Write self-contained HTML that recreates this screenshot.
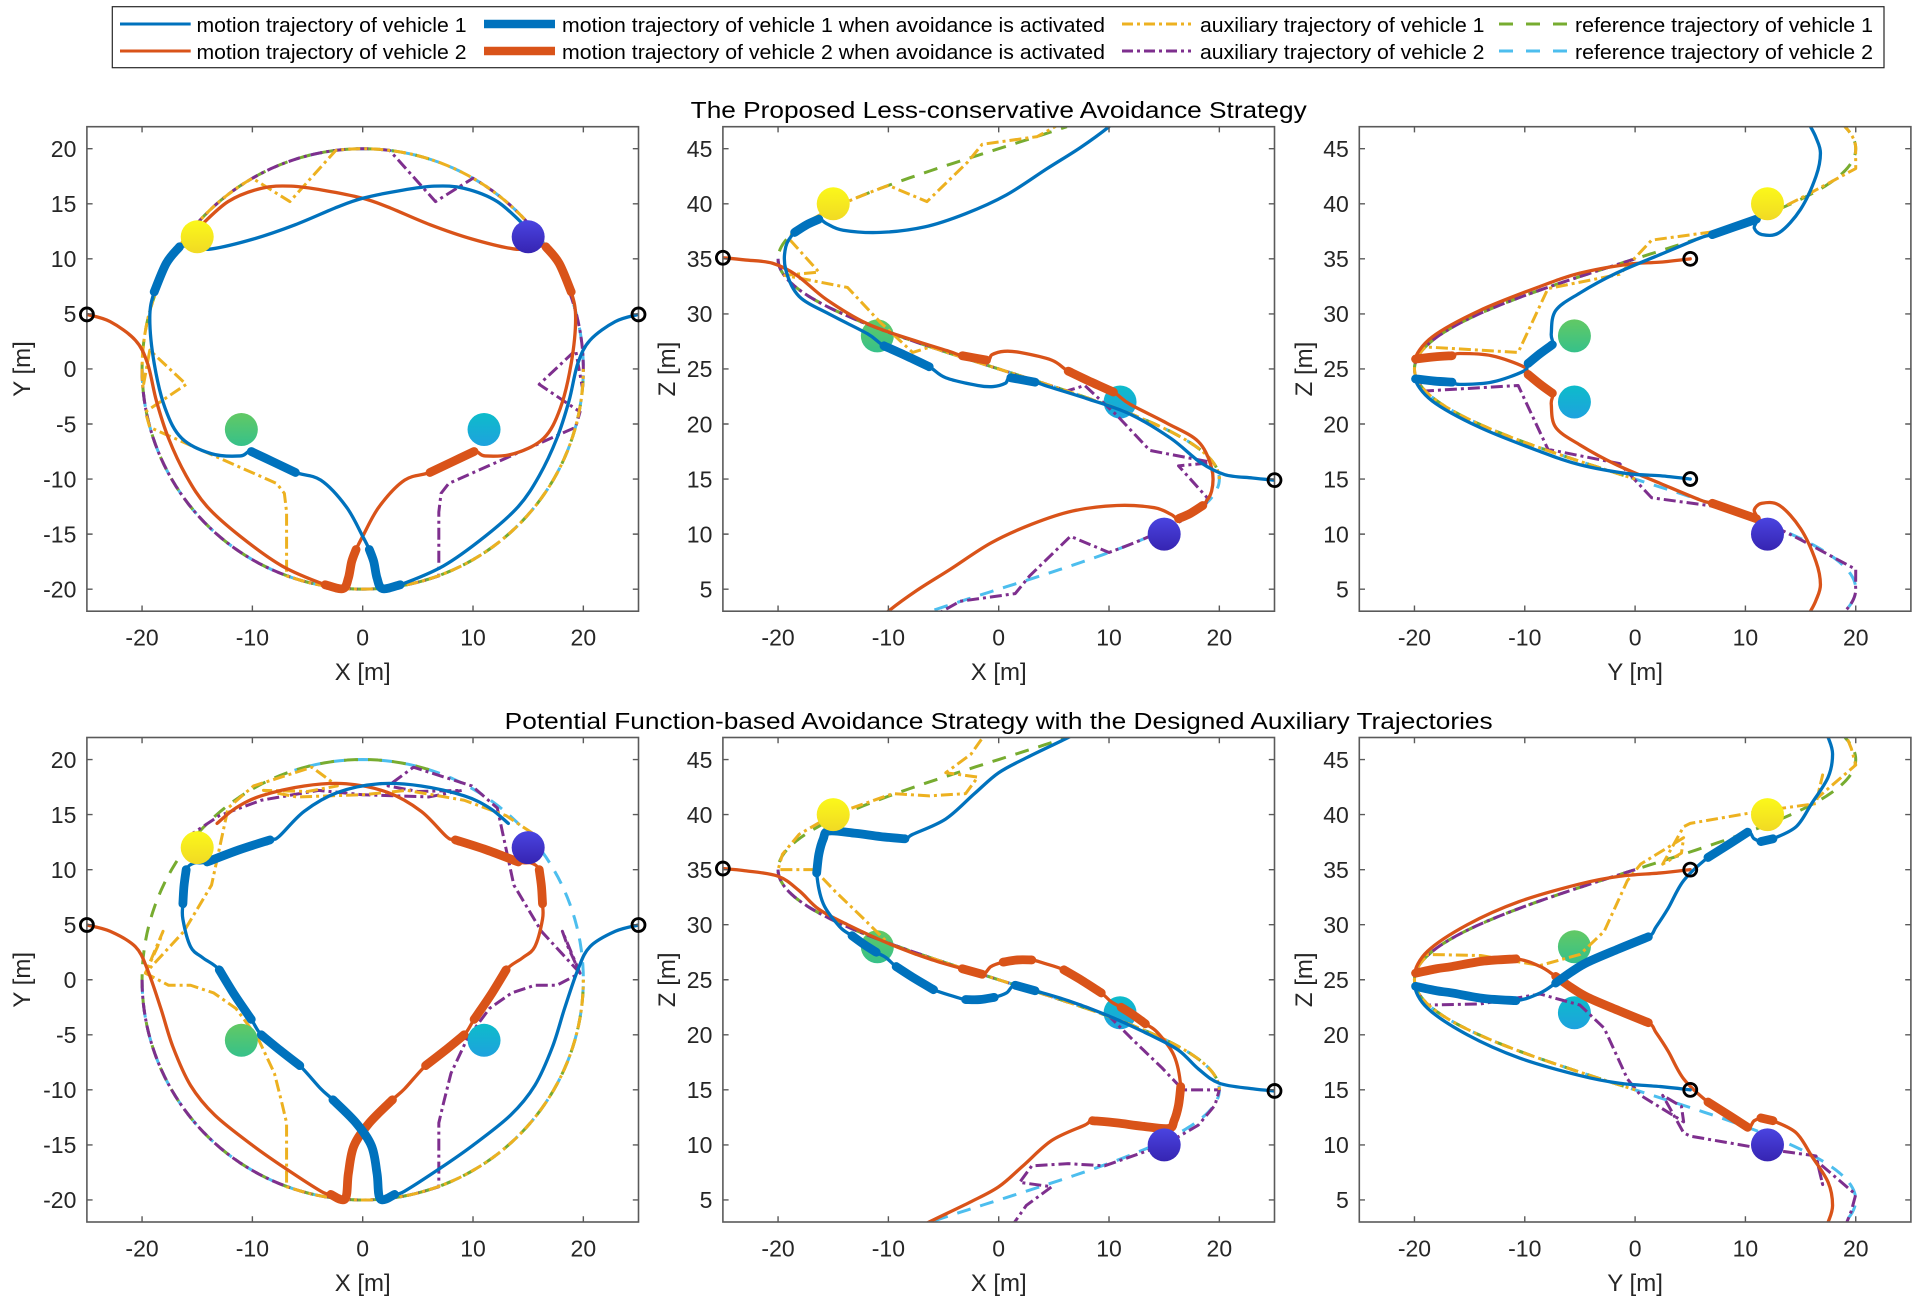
<!DOCTYPE html>
<html><head><meta charset="utf-8">
<style>
html,body{margin:0;padding:0;background:#fff;}
svg{display:block;}
text{font-family:"Liberation Sans",Arial,sans-serif;}
</style></head>
<body>
<svg id="fig" xmlns="http://www.w3.org/2000/svg" width="1926" height="1305" viewBox="0 0 1926 1305">
<defs id="defs">
 <linearGradient id="gY" x1="0" y1="0" x2="0" y2="1"><stop offset="0" stop-color="#fbf81a"/><stop offset="1" stop-color="#f1da24"/></linearGradient>
 <linearGradient id="gI" x1="0" y1="0" x2="0" y2="1"><stop offset="0" stop-color="#4a44e0"/><stop offset="1" stop-color="#3624b2"/></linearGradient>
 <linearGradient id="gG" x1="0" y1="0" x2="0" y2="1"><stop offset="0" stop-color="#62c964"/><stop offset="1" stop-color="#36c18a"/></linearGradient>
 <linearGradient id="gC" x1="0" y1="0" x2="0" y2="1"><stop offset="0" stop-color="#0dbcca"/><stop offset="1" stop-color="#1ea2de"/></linearGradient>
</defs>
<rect width="1926" height="1305" fill="#fff"/>

<!-- Legend -->
<rect x="112.3" y="6.7" width="1771.7" height="61" fill="#fff" stroke="#262626" stroke-width="1.2"/>
<line x1="120" y1="24" x2="190.7" y2="24" stroke="#0072BD" stroke-width="3"/>
<line x1="484" y1="24" x2="555" y2="24" stroke="#0072BD" stroke-width="8.5"/>
<line x1="1122" y1="24" x2="1191" y2="24" stroke="#EDB120" stroke-width="3" stroke-dasharray="11 4 3 4"/>
<line x1="1499" y1="24" x2="1569" y2="24" stroke="#77AC30" stroke-width="3" stroke-dasharray="14 13"/>
<line x1="120" y1="51" x2="190.7" y2="51" stroke="#D95319" stroke-width="3"/>
<line x1="484" y1="51" x2="555" y2="51" stroke="#D95319" stroke-width="8.5"/>
<line x1="1122" y1="51" x2="1191" y2="51" stroke="#7E2F8E" stroke-width="3" stroke-dasharray="11 4 3 4"/>
<line x1="1499" y1="51" x2="1569" y2="51" stroke="#4DBEEE" stroke-width="3" stroke-dasharray="14 13"/>
<g font-size="20.5" fill="#000">
<text x="196.5" y="32" textLength="270" lengthAdjust="spacingAndGlyphs">motion trajectory of vehicle 1</text>
<text x="562" y="32" textLength="543" lengthAdjust="spacingAndGlyphs">motion trajectory of vehicle 1 when avoidance is activated</text>
<text x="1200" y="32" textLength="284.5" lengthAdjust="spacingAndGlyphs">auxiliary trajectory of vehicle 1</text>
<text x="1575" y="32" textLength="298" lengthAdjust="spacingAndGlyphs">reference trajectory of vehicle 1</text>
<text x="196.5" y="59" textLength="270" lengthAdjust="spacingAndGlyphs">motion trajectory of vehicle 2</text>
<text x="562" y="59" textLength="543" lengthAdjust="spacingAndGlyphs">motion trajectory of vehicle 2 when avoidance is activated</text>
<text x="1200" y="59" textLength="284.5" lengthAdjust="spacingAndGlyphs">auxiliary trajectory of vehicle 2</text>
<text x="1575" y="59" textLength="298" lengthAdjust="spacingAndGlyphs">reference trajectory of vehicle 2</text>
</g>

<!-- Titles -->
<g font-size="23" fill="#000" text-anchor="middle">
<text x="998.7" y="118" textLength="616" lengthAdjust="spacingAndGlyphs">The Proposed Less-conservative Avoidance Strategy</text>
<text x="998.7" y="728.8" textLength="988" lengthAdjust="spacingAndGlyphs">Potential Function-based Avoidance Strategy with the Designed Auxiliary Trajectories</text>
</g>

<g id="plots"></g>

<!-- Y tick labels -->
<g font-size="23" fill="#262626" text-anchor="end">
<text x="76.4" y="156.96">20</text><text x="76.4" y="212.02">15</text><text x="76.4" y="267.08">10</text><text x="76.4" y="322.14">5</text><text x="76.4" y="377.2">0</text><text x="76.4" y="432.26">-5</text><text x="76.4" y="487.32">-10</text><text x="76.4" y="542.38">-15</text><text x="76.4" y="597.44">-20</text>
<text x="712.4" y="156.96">45</text><text x="712.4" y="212.02">40</text><text x="712.4" y="267.08">35</text><text x="712.4" y="322.14">30</text><text x="712.4" y="377.2">25</text><text x="712.4" y="432.26">20</text><text x="712.4" y="487.32">15</text><text x="712.4" y="542.38">10</text><text x="712.4" y="597.44">5</text>
<text x="1348.8" y="156.96">45</text><text x="1348.8" y="212.02">40</text><text x="1348.8" y="267.08">35</text><text x="1348.8" y="322.14">30</text><text x="1348.8" y="377.2">25</text><text x="1348.8" y="432.26">20</text><text x="1348.8" y="487.32">15</text><text x="1348.8" y="542.38">10</text><text x="1348.8" y="597.44">5</text>
<text x="76.4" y="767.76">20</text><text x="76.4" y="822.82">15</text><text x="76.4" y="877.88">10</text><text x="76.4" y="932.94">5</text><text x="76.4" y="988.0">0</text><text x="76.4" y="1043.06">-5</text><text x="76.4" y="1098.12">-10</text><text x="76.4" y="1153.18">-15</text><text x="76.4" y="1208.24">-20</text>
<text x="712.4" y="767.76">45</text><text x="712.4" y="822.82">40</text><text x="712.4" y="877.88">35</text><text x="712.4" y="932.94">30</text><text x="712.4" y="988.0">25</text><text x="712.4" y="1043.06">20</text><text x="712.4" y="1098.12">15</text><text x="712.4" y="1153.18">10</text><text x="712.4" y="1208.24">5</text>
<text x="1348.8" y="767.76">45</text><text x="1348.8" y="822.82">40</text><text x="1348.8" y="877.88">35</text><text x="1348.8" y="932.94">30</text><text x="1348.8" y="988.0">25</text><text x="1348.8" y="1043.06">20</text><text x="1348.8" y="1098.12">15</text><text x="1348.8" y="1153.18">10</text><text x="1348.8" y="1208.24">5</text>
</g>

<!-- X tick labels -->
<g font-size="23" fill="#262626" text-anchor="middle">
<text x="142.06" y="645.5">-20</text><text x="252.38" y="645.5">-10</text><text x="362.7" y="645.5">0</text><text x="473.02" y="645.5">10</text><text x="583.34" y="645.5">20</text>
<text x="778.06" y="645.5">-20</text><text x="888.38" y="645.5">-10</text><text x="998.7" y="645.5">0</text><text x="1109.02" y="645.5">10</text><text x="1219.34" y="645.5">20</text>
<text x="1414.46" y="645.5">-20</text><text x="1524.78" y="645.5">-10</text><text x="1635.1" y="645.5">0</text><text x="1745.42" y="645.5">10</text><text x="1855.74" y="645.5">20</text>
<text x="142.06" y="1256.3">-20</text><text x="252.38" y="1256.3">-10</text><text x="362.7" y="1256.3">0</text><text x="473.02" y="1256.3">10</text><text x="583.34" y="1256.3">20</text>
<text x="778.06" y="1256.3">-20</text><text x="888.38" y="1256.3">-10</text><text x="998.7" y="1256.3">0</text><text x="1109.02" y="1256.3">10</text><text x="1219.34" y="1256.3">20</text>
<text x="1414.46" y="1256.3">-20</text><text x="1524.78" y="1256.3">-10</text><text x="1635.1" y="1256.3">0</text><text x="1745.42" y="1256.3">10</text><text x="1855.74" y="1256.3">20</text>
</g>

<!-- Axis labels -->
<g font-size="24" fill="#262626" text-anchor="middle">
<text x="362.7" y="680">X [m]</text><text x="998.7" y="680">X [m]</text><text x="1635.1" y="680">Y [m]</text>
<text x="362.7" y="1290.8">X [m]</text><text x="998.7" y="1290.8">X [m]</text><text x="1635.1" y="1290.8">Y [m]</text>
<text transform="translate(30,369) rotate(-90)">Y [m]</text>
<text transform="translate(675,369) rotate(-90)">Z [m]</text>
<text transform="translate(1312,369) rotate(-90)">Z [m]</text>
<text transform="translate(30,979.8) rotate(-90)">Y [m]</text>
<text transform="translate(675,979.8) rotate(-90)">Z [m]</text>
<text transform="translate(1312,979.8) rotate(-90)">Z [m]</text>
</g>
</svg>
<script>
(function(){
const NS='http://www.w3.org/2000/svg';
const layer=document.getElementById('plots');
const defs=document.getElementById('defs');
function el(tag,attrs,parent){const e=document.createElementNS(NS,tag);for(const k in attrs)e.setAttribute(k,attrs[k]);(parent||layer).appendChild(e);return e;}
const S=11.032,W=551.6,H=484.5,SY=H/44;
const LW=3.3,TW=8.8,DW=3;
const C={b:'#0072BD',o:'#D95319',y:'#EDB120',p:'#7E2F8E',g:'#77AC30',c:'#4DBEEE'};
const AX=[
 {l:86.9,t:126.7,ymax:22,v:'XY'},
 {l:722.9,t:126.7,ymax:47,v:'XZ'},
 {l:1359.3,t:126.7,ymax:47,v:'YZ'},
 {l:86.9,t:737.5,ymax:22,v:'XY'},
 {l:722.9,t:737.5,ymax:47,v:'XZ'},
 {l:1359.3,t:737.5,ymax:47,v:'YZ'}];
function helix(v,a,b){const pts=[];const n=Math.max(2,Math.ceil(Math.abs(b-a)/2));for(let i=0;i<=n;i++){const deg=a+(b-a)*i/n;const th=deg*Math.PI/180;const x=20*Math.cos(th),y=20*Math.sin(th),z=15-deg/9;pts.push(v==='XY'?[x,y]:(v==='XZ'?[x,z]:[y,z]));}return pts;}
function mir(v,pts){return pts.map(p=>v==='XY'?[-p[0],p[1]]:(v==='XZ'?[-p[0],50-p[1]]:[p[0],50-p[1]]));}
function px(ax,p){return [ax.l+(p[0]+25)*S, ax.t+(ax.ymax-p[1])*SY];}
function fm(q){return q[0].toFixed(2)+','+q[1].toFixed(2);}
function smooth(ax,pts){const q=pts.map(p=>px(ax,p));let d='M'+fm(q[0]);for(let i=0;i<q.length-1;i++){const p0=q[i-1]||q[i],p1=q[i],p2=q[i+1],p3=q[i+2]||q[i+1];const c1=[p1[0]+(p2[0]-p0[0])/6,p1[1]+(p2[1]-p0[1])/6];const c2=[p2[0]-(p3[0]-p1[0])/6,p2[1]-(p3[1]-p1[1])/6];d+='C'+fm(c1)+' '+fm(c2)+' '+fm(p2);}return d;}
function poly(ax,pts){return 'M'+pts.map(p=>fm(px(ax,p))).join('L');}
function path(g,d,col,w,dash,off){const a={d:d,fill:'none',stroke:col,'stroke-width':w,'stroke-linejoin':'round','stroke-linecap':dash?'butt':'round'};if(dash){a['stroke-dasharray']=dash;if(off)a['stroke-dashoffset']=off;}el('path',a,g);}
const OB={
 XY:{Y:[-15,12],I:[15,12],G:[-11,-5.5],C:[11,-5.5]},
 XZ:{Y:[-15,40],I:[15,10],G:[-11,28],C:[11,22]},
 YZ:{Y:[12,40],I:[12,10],G:[-5.5,28],C:[-5.5,22]}};
function ball(g,ax,p,grad){const q=px(ax,p);el('circle',{cx:q[0].toFixed(2),cy:q[1].toFixed(2),r:16.5,fill:'url(#'+grad+')'},g);}

const D=[];
D[0]={
blue:[[25,4.95],[22.9,4.3],[20.6,2.6],[19.5,0.5],[18.7,-2.9],[17.6,-6.3],[16.0,-9.7],[14.1,-12.5],[11.1,-15.2],[7.3,-17.9],[3.4,-19.6],[1.8,-19.95],[1.3,-19],[1.0,-17.5],[0.6,-16.4],[0,-15.2],[-1.5,-12.5],[-3.8,-10.1],[-6.1,-9.4],[-8.2,-8.4],[-10.1,-7.5],[-11.1,-7.9],[-13.7,-7.7],[-16.4,-6.3],[-17.9,-3.6],[-18.9,0.5],[-19.3,4.6],[-18.9,7],[-17.8,9.6],[-16.6,11.1],[-15.5,11],[-13.7,10.9],[-9.9,11.8],[-6.1,13.1],[-2.3,14.7],[0,15.5],[3.4,16.2],[6.5,16.6],[9.2,16.4],[12.2,15.2],[14.9,12.8]],
thick:[[[3.4,-19.6],[1.8,-19.95],[1.3,-19],[1.0,-17.5],[0.6,-16.4]],[[-6.1,-9.4],[-8.2,-8.4],[-10.1,-7.5]],[[-18.9,7],[-17.8,9.6],[-16.6,11.1]]],
aux:[].concat(helix('XY',0,-108),[[-6.9,-18.8],[-6.9,-13],[-7.1,-11.3],[-7.8,-10.4],[-19.3,-5.3],[-19.7,-3.9],[-16,-1.4],[-19.3,1.7]],helix('XY',-175,-240),[[-6.6,15.2]],helix('XY',-263,-336))
};
D[1]={
blue:[[25,14.9],[23,15.1],[20.5,15.4],[18.3,16.5],[15.6,18.7],[11.9,20.9],[8,22.3],[4.5,23.4],[3.3,23.8],[1.1,24.2],[0.6,23.7],[-0.5,23.4],[-1.9,23.5],[-4.8,24.2],[-6.3,25.2],[-8.4,26.2],[-10.4,27.1],[-11.9,28.2],[-15.2,29.9],[-18.1,31.6],[-19.3,34],[-19.3,36.1],[-18.5,37.4],[-17.4,38.1],[-16.3,38.6],[-15.6,38.2],[-14.1,37.6],[-10.7,37.4],[-6.7,37.9],[-3,39.1],[0.7,40.8],[4.4,43.2],[7.4,45.1],[10,47],[11,48]],
thick:[[[3.3,23.8],[1.1,24.2]],[[-6.3,25.2],[-8.4,26.2],[-10.4,27.1]],[[-18.5,37.4],[-17.4,38.1],[-16.3,38.6]]],
aux:[].concat(helix('XZ',0,-108),[[-7.8,26.5],[-10.7,29.2],[-13.7,32.4],[-19.4,33.5],[-16.3,33.8],[-18.9,36.7]],helix('XZ',-200,-240),[[-6.5,40.2],[-2.8,43.8],[-1.5,45.4],[3.5,46.1],[6,47.5]])
};
D[2]={
blue:[[5,15],[2.3,15.3],[-0.7,15.5],[-5,16.3],[-8.6,17.5],[-14.1,19.7],[-18.4,22.1],[-19.9,24.1],[-18.2,23.9],[-16.6,23.8],[-15.9,23.6],[-13,23.8],[-10.1,24.8],[-9.7,25.5],[-8.6,26.4],[-7.5,27.2],[-7.6,28.2],[-7.2,30.3],[-5,31.9],[-1.7,33.7],[2.3,35.4],[5.9,36.9],[7,37.2],[9,37.9],[11,38.6],[10.8,37.8],[11.5,37.2],[13.1,37.4],[15,39.5],[16.4,42.5],[16.8,44.6],[16.4,46],[15.9,47],[15.3,48]],
thick:[[[-19.9,24.1],[-18.2,23.9],[-16.6,23.8]],[[-9.7,25.5],[-8.6,26.4],[-7.5,27.2]],[[7,37.2],[9,37.9],[11,38.6]]],
aux:[].concat(helix('YZ',0,-108),[[-10.6,26.5],[-7.9,32.3],[-1.4,33.6],[1.5,36.7],[8.1,37.6],[12,39],[15,40.5],[20,43.2]],helix('YZ',-268,-292))
};
D[3]={
blue:[[25,4.97],[22.9,4.4],[20.6,3],[19.5,0.9],[18.3,-2.6],[17.2,-6.1],[15.6,-9.6],[13.4,-12.3],[9.9,-15.1],[6.9,-17.2],[3.8,-19.2],[2.9,-19.5],[1.6,-19.9],[1.3,-17.6],[0.8,-15.1],[-0.6,-13],[-2.7,-10.9],[-3.8,-9.9],[-5.7,-7.8],[-7.5,-6.4],[-9.2,-5],[-10.1,-3.6],[-11.6,-1.4],[-13,0.9],[-14.5,2],[-15.6,3],[-16.3,5.5],[-16.3,6.9],[-16.2,8.5],[-16,10],[-15.3,10.6],[-14.1,10.7],[-11.2,11.8],[-8.4,12.7],[-7.6,13],[-5.3,15.3],[-2.3,17],[1.5,17.8],[5.3,17.6],[9.2,16.7],[11.5,15.6],[13.2,14.2]],
thick:[[[2.9,-19.5],[1.6,-19.9],[1.3,-17.6],[0.8,-15.1],[-0.6,-13],[-2.7,-10.9]],[[-5.7,-7.8],[-7.5,-6.4],[-9.2,-5]],[[-10.1,-3.6],[-11.6,-1.4],[-13,0.9]],[[-16.3,6.9],[-16.2,8.5],[-16,10]],[[-14.1,10.7],[-11.2,11.8],[-8.4,12.7]]],
aux:[].concat(helix('XY',0,-108),[[-6.9,-18.8],[-6.9,-13],[-7.3,-11.3],[-8,-8.5],[-9.5,-5.3],[-11.5,-2.6],[-13.5,-1.2],[-15.6,-0.5],[-17.6,-0.5],[-19.7,0.6],[-18.1,4.4],[-18.6,3],[-19.7,0.6],[-16.2,4.4],[-13.7,8.6],[-12.2,15.6],[-9.9,17.6],[-4.6,19.3],[-2.3,17.6],[-5,17.1],[-9,17.2],[-6,16.6],[0,16.8],[4,17.2],[9.2,16.3],[13,14.9],[15.4,13.3]])
};
D[4]={
blue:[[25,14.9],[23,15.1],[20,15.6],[18.1,16.9],[16.3,18.6],[13.7,20],[10,21.7],[6.3,23.1],[3.3,24],[1.5,24.5],[0.7,23.8],[-0.4,23.4],[-1.7,23.2],[-3,23.2],[-4.1,23.5],[-5.9,24.1],[-7.6,25.1],[-9.3,26.2],[-10.2,27],[-11.1,27.5],[-12.2,28.2],[-13.3,29],[-14.4,29.8],[-15.9,31.9],[-16.5,34.7],[-16.3,36.4],[-15.9,37.8],[-15.4,38.5],[-13,38.3],[-10.7,38],[-8.5,37.8],[-7.8,38.2],[-4.8,39.6],[-2.2,41.9],[0,43.8],[2.6,45.2],[6.3,47],[7.5,47.7]],
thick:[[[3.3,24],[1.5,24.5]],[[-0.4,23.4],[-1.7,23.2],[-3,23.2]],[[-5.9,24.1],[-7.6,25.1],[-9.3,26.2]],[[-11.1,27.5],[-12.2,28.2],[-13.3,29]],[[-16.5,34.7],[-16.3,36.4],[-15.9,37.8],[-15.4,38.5],[-13,38.3],[-10.7,38],[-8.5,37.8]]],
aux:[].concat(helix('XZ',0,-108),[[-7.5,27.3],[-10,28.3],[-12.2,30.5],[-14.8,33],[-16.7,35],[-20,35],[-19.6,36.4],[-18.1,38.2],[-15,40],[-9.6,41.9],[-6.3,41.7],[-3,41.9],[-1.9,43.4],[-4.8,43.8],[-2.5,45.5],[-1.1,47.5]])
};
D[5]={
blue:[[5,15],[2.3,15.3],[-1.4,15.6],[-5,16.3],[-10.5,17.9],[-15.2,20],[-18.8,22.4],[-19.9,24.4],[-18,24],[-16.6,23.8],[-13.7,23.3],[-10.8,23.1],[-8.6,23.8],[-7.2,24.7],[-5.8,25.7],[-4.3,26.6],[-1.5,27.8],[1.2,28.9],[1.9,29.8],[3,31.5],[4.4,34],[6.6,36.1],[8.5,37.3],[10.2,38.4],[10.8,37.8],[11.7,37.5],[12.5,37.8],[14.6,38.9],[16,41],[17.5,43.4],[17.9,45.5],[17.5,47],[17,48]],
thick:[[[-19.9,24.4],[-18,24],[-16.6,23.8],[-13.7,23.3],[-10.8,23.1]],[[-7.2,24.7],[-5.8,25.7],[-4.3,26.6],[-1.5,27.8],[1.2,28.9]],[[6.6,36.1],[8.5,37.3],[10.2,38.4]],[[11.4,37.55],[12.5,37.8]]],
aux:[].concat(helix('YZ',0,-108),[[-19,27.3],[-14,27.2],[-8.6,26.3],[-5,27.3],[-2.8,29.4],[-0.7,34],[0.5,35.5],[4.4,37.9],[4.2,36.5],[2.5,35.5],[4.4,38.9],[5,39.2],[11.3,40.3],[16.4,41],[17,43.6],[16.5,41.5],[20,44.5],[19.6,46],[19,47.5]])
};

const XT=[-20,-10,0,10,20];
AX.forEach((ax,i)=>{
 const v=ax.v, d=D[i], ob=OB[v];
 const cp=el('clipPath',{id:'clip'+i},defs);
 el('rect',{x:ax.l,y:ax.t,width:W,height:H},cp);
 const g=el('g',{'clip-path':'url(#clip'+i+')'});
 if(v!=='XY'){ball(g,ax,ob.G,'gG');ball(g,ax,ob.C,'gC');}
 const r1=helix(v,0,-288), r2=helix(v,-180,108);
 path(g,poly(ax,r2),C.c,DW,'14 10',0);
 path(g,poly(ax,r1),C.g,DW,'14 10',12);
 const a1=d.aux, a2=mir(v,a1);
 path(g,poly(ax,a2),C.p,DW,'12 4 3 4',0);
 path(g,poly(ax,a1),C.y,DW,'12 4 3 4',9);
 const b=d.blue, o=mir(v,b);
 path(g,smooth(ax,o),C.o,LW);
 path(g,smooth(ax,b),C.b,LW);
 d.thick.forEach(t=>{path(g,smooth(ax,mir(v,t)),C.o,TW);path(g,smooth(ax,t),C.b,TW);});
 if(v==='XY'){ball(g,ax,ob.G,'gG');ball(g,ax,ob.C,'gC');}
 ball(g,ax,ob.Y,'gY');ball(g,ax,ob.I,'gI');
 el('rect',{x:ax.l,y:ax.t,width:W,height:H,fill:'none',stroke:'#5a5a5a','stroke-width':1.6});
 let td='';
 XT.forEach(x=>{const X=ax.l+(x+25)*S;td+='M'+X.toFixed(2)+','+ax.t+'v5.7M'+X.toFixed(2)+','+(ax.t+H).toFixed(2)+'v-5.7';});
 for(let k=0;k<9;k++){const Y=ax.t+(2+5*k)*SY;td+='M'+ax.l+','+Y.toFixed(2)+'h5.7M'+(ax.l+W).toFixed(2)+','+Y.toFixed(2)+'h-5.7';}
 el('path',{d:td,stroke:'#5a5a5a','stroke-width':1.4,fill:'none'});
 [b[0],o[0]].forEach(p=>{const q=px(ax,p);el('circle',{cx:q[0].toFixed(2),cy:q[1].toFixed(2),r:6.5,fill:'none',stroke:'#000','stroke-width':2.8});});
});
})();
</script>
</body></html>
